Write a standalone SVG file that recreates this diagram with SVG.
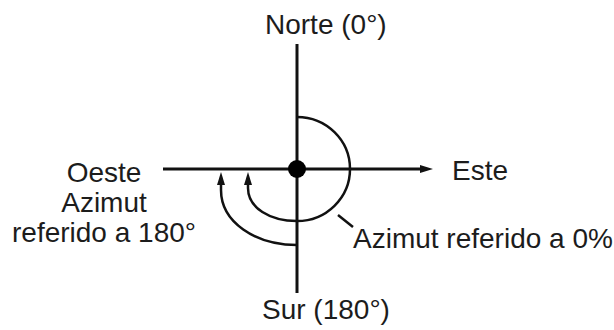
<svg xmlns="http://www.w3.org/2000/svg" width="614" height="330" viewBox="0 0 614 330">
  <style>
    .lbl { font-family: "Liberation Sans", Arial, sans-serif; font-size: 28px; fill: #1c1c1c; }
    .axis { stroke: #111; stroke-width: 3; fill: none; }
    .arc { stroke: #111; stroke-width: 2.5; fill: none; }
  </style>
  <defs>
    <marker id="ah" markerUnits="userSpaceOnUse" markerWidth="14" markerHeight="10" refX="6" refY="4" orient="auto">
      <path d="M0,0 L13,4 L0,8 z" fill="#111"/>
    </marker>
  </defs>
  <rect width="614" height="330" fill="#fff"/>
  <g id="connectors">
    <line class="axis" x1="297" y1="44" x2="297" y2="293"/>
    <line class="axis" x1="163" y1="169" x2="426" y2="169" marker-end="url(#ah)"/>
    <path class="arc" d="M297 117 A53 52 0 0 1 350 169 A53 52 0 0 1 297 221 C270 221 248 208 248 188 L248 179" marker-end="url(#ah)"/>
    <path class="arc" d="M297 245 C255 245 221 222 221 190 L221 179" marker-end="url(#ah)"/>
    <line class="arc" x1="338" y1="215" x2="353" y2="227"/>
  </g>
  <g id="center">
    <circle cx="297" cy="169" r="9" fill="#000"/>
  </g>
  <g id="norte"><text class="lbl" x="265" y="34">Norte (0°)</text></g>
  <g id="sur"><text class="lbl" x="262" y="319">Sur (180°)</text></g>
  <g id="este"><text class="lbl" x="452" y="180">Este</text></g>
  <g id="oeste">
    <text class="lbl" x="104" y="182" text-anchor="middle">Oeste</text>
    <text class="lbl" x="104" y="212" text-anchor="middle">Azimut</text>
    <text class="lbl" x="104" y="242" text-anchor="middle">referido a 180°</text>
  </g>
  <g id="azimut0"><text class="lbl" x="353" y="248">Azimut referido a 0%</text></g>
</svg>
